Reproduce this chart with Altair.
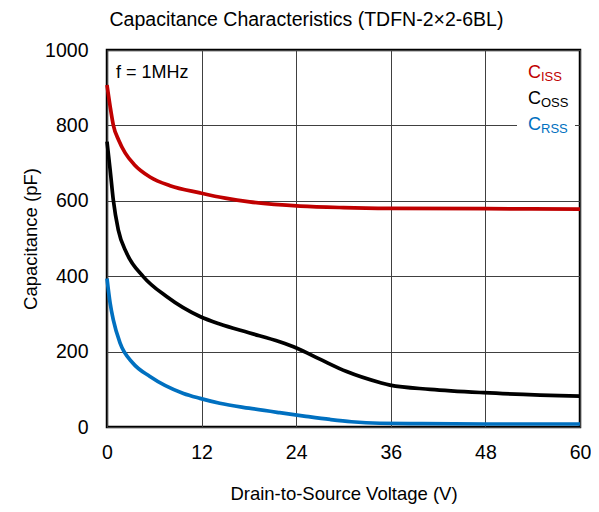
import altair as alt
import pandas as pd

# ---- data ----
series = ["Ciss", "Coss", "Crss"]
colors = ["#C00000", "#000000", "#0070C0"]

vds_ciss = [0, 0.4, 0.8, 1.5, 2.3, 3.5, 5.45, 8, 11.8, 15, 18.1, 24.5, 30, 36, 48, 60]
ciss = [907, 850, 801, 760, 727, 695, 663, 640, 621, 607, 597, 586, 582, 580, 579, 578]

vds_coss = [0, 0.4, 0.8, 1.43, 2.5, 4.6, 7.56, 11.8, 14.3, 18, 21.9, 24.1, 27, 30.4, 34.6, 35.9, 41, 47.8, 60]
coss = [757, 682, 602, 523, 461, 399, 346, 293, 273, 250, 226, 209, 180, 147, 118, 111, 100, 91, 82]

vds_crss = [0, 0.4, 0.8, 1.65, 3.3, 5.45, 9.7, 11.8, 14.3, 18, 21.9, 25, 28.3, 31, 34.6, 40, 48, 60]
crss = [394, 328, 284, 223, 169, 134, 89, 76, 63, 50, 38, 29, 20, 14, 10, 9, 8, 8]

x_ticks = [0, 12, 24, 36, 48, 60]
y_ticks = [0, 200, 400, 600, 800, 1000]

legend_main = ["C", "C", "C"]
legend_sub = ["ISS", "OSS", "RSS"]
note = "f = 1MHz"
title = "Capacitance Characteristics (TDFN-2×2-6BL)"

rows = []
for name, xs, ys in [("Ciss", vds_ciss, ciss), ("Coss", vds_coss, coss), ("Crss", vds_crss, crss)]:
    for xv, yv in zip(xs, ys):
        rows.append({"series": name, "v": xv, "c": yv})
df = pd.DataFrame(rows)

FONT = "Liberation Sans"

lines = alt.Chart(df).mark_line(strokeWidth=3.7, interpolate="monotone").encode(
    x=alt.X("v:Q", scale=alt.Scale(domain=[0, 60], nice=False),
            axis=alt.Axis(values=x_ticks, title="Drain-to-Source Voltage (V)", format="d",
                          labelPadding=16, titlePadding=23, labelFlush=False, labelBound=False)),
    y=alt.Y("c:Q", scale=alt.Scale(domain=[0, 1000], nice=False),
            axis=alt.Axis(values=y_ticks, title="Capacitance (pF)", format="d",
                          labelPadding=19, titlePadding=4, labelFlush=False, labelBound=False)),
    color=alt.Color("series:N", scale=alt.Scale(domain=series, range=colors), legend=None),
    detail="series:N",
)

box = alt.Chart(pd.DataFrame({"a": [0]})).mark_rect(color="white").encode(
    x=alt.value(410), x2=alt.value(468), y=alt.value(6), y2=alt.value(88)
)

layers = [box, lines]
for i in range(3):
    d = pd.DataFrame({"m": [legend_main[i]], "s": [legend_sub[i]]})
    yy = 23 + 26 * i
    layers.append(alt.Chart(d).mark_text(font=FONT, fontSize=18, align="left", baseline="middle",
                                         color=colors[i]).encode(
        text="m:N", x=alt.value(421), y=alt.value(yy)))
    layers.append(alt.Chart(d).mark_text(font=FONT, fontSize=13, align="left", baseline="middle",
                                         color=colors[i]).encode(
        text="s:N", x=alt.value(434), y=alt.value(yy + 4)))

layers.append(alt.Chart(pd.DataFrame({"t": [note]})).mark_text(
    font=FONT, fontSize=18, align="left", baseline="middle", color="black").encode(
    text="t:N", x=alt.value(9), y=alt.value(23)))

chart = alt.layer(*layers).properties(
    width=473, height=377,
    autosize=alt.AutoSizeParams(type="none"),
    padding={"left": 99, "top": 42, "right": 11, "bottom": 77},
    title=alt.Title(title, font=FONT, fontSize=19.5, fontWeight="normal", color="black",
                    anchor="middle", dx=-37, offset=10),
).configure_view(
    stroke="black", strokeWidth=2.5
).configure_axis(
    grid=True, gridColor="#404040", gridWidth=1, gridOpacity=1,
    domain=False, ticks=False,
    labelFont=FONT, labelFontSize=19.5, labelColor="black",
    titleFont=FONT, titleFontSize=18.5, titleColor="black", titleFontWeight="normal",
)

chart.save("out.html", embed_options={"renderer": "svg", "actions": False})
